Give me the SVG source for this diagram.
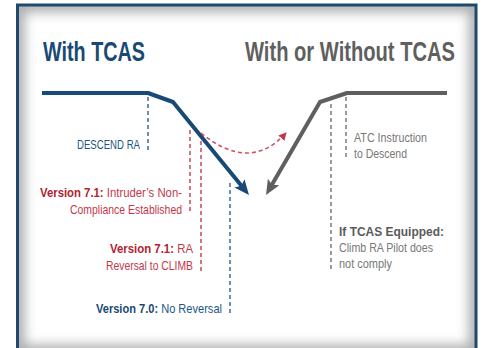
<svg xmlns="http://www.w3.org/2000/svg" width="484" height="348" viewBox="0 0 484 348">
<style>
text{font-family:"Liberation Sans Narrow","Liberation Sans",Arial,sans-serif;}
.title{font-size:28px;font-weight:bold;}
.lbl{font-size:13.5px;}
.b{font-weight:bold;}
.blue{fill:#1d5684;}
.dblue{fill:#184a75;}
.red{fill:#c4374a;}
.dred{fill:#b3222f;}
.gray{fill:#6b6b6b;}
.lgray{fill:#777;}
.dgray{fill:#5a5a5a;}
.dashb{stroke:#1d5684;stroke-width:1.3;stroke-dasharray:4 3;fill:none;}
.dashr{stroke:#cf5260;stroke-width:1.6;stroke-dasharray:4 3;fill:none;}
.dashg{stroke:#666;stroke-width:1.3;stroke-dasharray:4 3;fill:none;}
</style>
<defs>
<clipPath id="inner"><rect x="18" y="5.5" width="457.5" height="346"/></clipPath>
<filter id="blur" x="-10%" y="-10%" width="120%" height="120%"><feGaussianBlur stdDeviation="6"/></filter>
<marker id="ahBlue" markerUnits="userSpaceOnUse" viewBox="0 0 15 13" markerWidth="15" markerHeight="13" refX="7" refY="6.5" orient="auto"><path d="M0,0 L15,6.5 L0,13 L3,6.5 z" fill="#184a75"/></marker>
<marker id="ahGray" markerUnits="userSpaceOnUse" viewBox="0 0 15 13" markerWidth="15" markerHeight="13" refX="7" refY="6.5" orient="auto"><path d="M0,0 L15,6.5 L0,13 L3,6.5 z" fill="#5f5f5f"/></marker>
<marker id="ahRed" markerUnits="userSpaceOnUse" viewBox="0 0 8 8" markerWidth="8" markerHeight="8" refX="7" refY="4" orient="auto"><path d="M0,0 L8,4 L0,8 z" fill="#c4374a"/></marker>
</defs>

<g id="frame">
<rect x="0" y="0" width="484" height="348" fill="#fff"/>
<rect x="17.5" y="5" width="458.5" height="347" fill="#fff"/>
<g clip-path="url(#inner)">
<rect x="17.5" y="5" width="458.5" height="347" fill="none" stroke="#aaa" stroke-width="14" filter="url(#blur)"/>
</g>
<rect x="17.5" y="5" width="458.5" height="347" fill="none" stroke="#1d4a6e" stroke-width="3"/>
</g>

<g id="titles">
<text class="title dblue" x="43" y="61" textLength="102" lengthAdjust="spacingAndGlyphs">With TCAS</text>
<text class="title" fill="#5f5f5f" x="455" y="61" text-anchor="end" textLength="210" lengthAdjust="spacingAndGlyphs">With or Without TCAS</text>
</g>

<g id="connectors">
<path d="M42,93 L148,93 L173,102 L243.9,188.8" fill="none" stroke="#184a75" stroke-width="4" stroke-linejoin="round" marker-end="url(#ahBlue)"/>
<path d="M447,93 L347,93 L320,102 L270,188.1" fill="none" stroke="#5f5f5f" stroke-width="4" stroke-linejoin="round" marker-end="url(#ahGray)"/>
<path d="M201,133 Q250,173 286,133" class="dashr" marker-end="url(#ahRed)"/>
<line x1="148" y1="97" x2="148" y2="150" class="dashb"/>
<line x1="230" y1="183" x2="230" y2="313" class="dashb"/>
<line x1="190" y1="130" x2="190" y2="214" class="dashr"/>
<line x1="201" y1="141" x2="201" y2="271" class="dashr"/>
<line x1="331" y1="104" x2="331" y2="270" class="dashg"/>
<line x1="346" y1="97" x2="346" y2="159" class="dashg"/>
</g>

<g id="descend-ra">
<text class="lbl blue" x="77" y="149" textLength="63" lengthAdjust="spacingAndGlyphs">DESCEND RA</text>
</g>

<g id="v71-noncompliance">
<text class="lbl red" x="40" y="197" textLength="142" lengthAdjust="spacingAndGlyphs"><tspan class="b dred">Version 7.1:</tspan> Intruder’s Non-</text>
<text class="lbl red" x="70" y="214" textLength="112" lengthAdjust="spacingAndGlyphs">Compliance Established</text>
</g>

<g id="v71-reversal">
<text class="lbl red" x="110" y="253" textLength="83" lengthAdjust="spacingAndGlyphs"><tspan class="b dred">Version 7.1:</tspan> RA</text>
<text class="lbl red" x="106" y="270" textLength="87" lengthAdjust="spacingAndGlyphs">Reversal to CLIMB</text>
</g>

<g id="v70">
<text class="lbl blue" x="96" y="313" textLength="126" lengthAdjust="spacingAndGlyphs"><tspan class="b dblue">Version 7.0:</tspan> No Reversal</text>
</g>

<g id="atc">
<text class="lbl lgray" x="354" y="142" textLength="73" lengthAdjust="spacingAndGlyphs">ATC Instruction</text>
<text class="lbl lgray" x="354" y="158" textLength="53" lengthAdjust="spacingAndGlyphs">to Descend</text>
</g>

<g id="tcas-equipped">
<text class="lbl b dgray" x="339" y="236" textLength="105" lengthAdjust="spacingAndGlyphs">If TCAS Equipped:</text>
<text class="lbl lgray" x="339" y="252" textLength="94" lengthAdjust="spacingAndGlyphs">Climb RA Pilot does</text>
<text class="lbl lgray" x="339" y="268" textLength="53" lengthAdjust="spacingAndGlyphs">not comply</text>
</g>
</svg>
